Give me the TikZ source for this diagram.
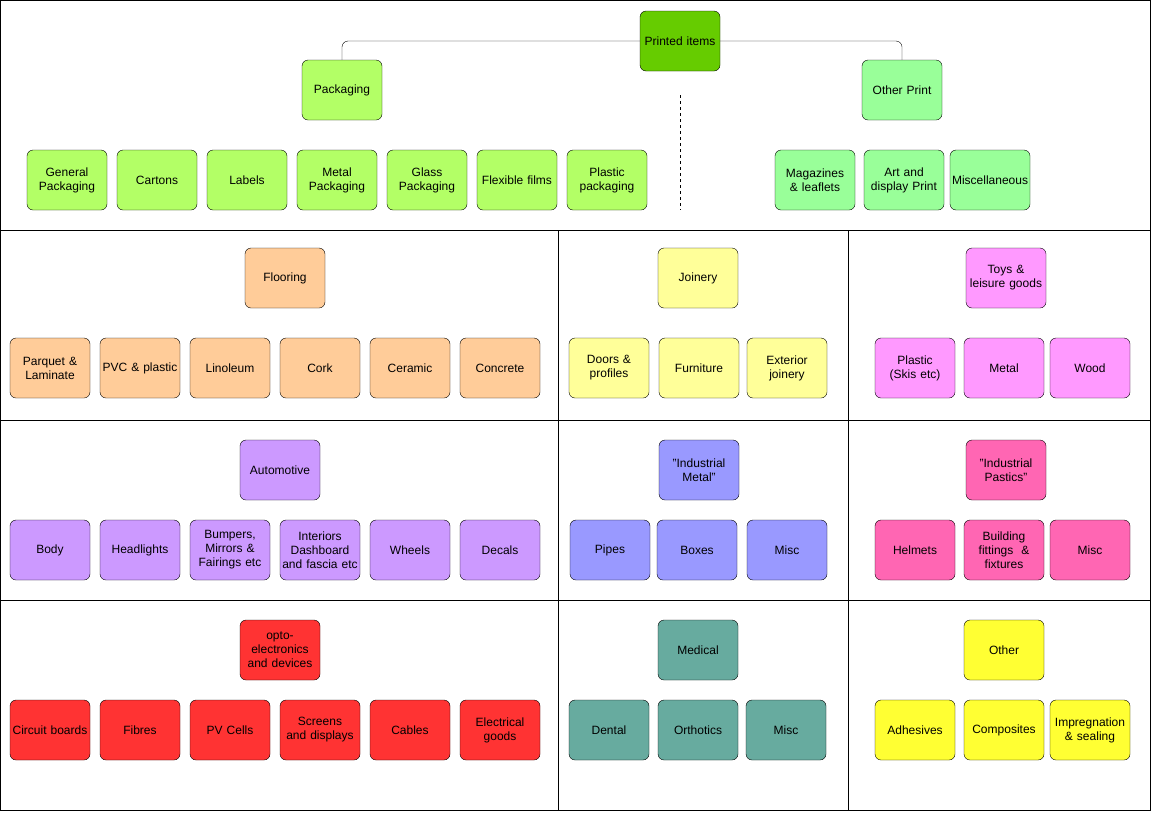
\documentclass[tikz,border=0pt]{standalone}
\usepackage{fontspec}
\setmainfont{Liberation Sans}
\definecolor{cprint}{HTML}{66CC00}
\definecolor{cpack}{HTML}{B3FF66}
\definecolor{cother}{HTML}{99FF99}
\definecolor{cfloor}{HTML}{FFCC99}
\definecolor{cjoin}{HTML}{FFFF99}
\definecolor{ctoys}{HTML}{FF99FF}
\definecolor{cauto}{HTML}{CC99FF}
\definecolor{cmetal}{HTML}{9999FF}
\definecolor{cplast}{HTML}{FF66B3}
\definecolor{copto}{HTML}{FF3333}
\definecolor{cmed}{HTML}{67AB9F}
\definecolor{cmisc}{HTML}{FFFF33}
\tikzset{
  item/.style={draw, rounded corners=6pt, minimum width=80pt, minimum height=60pt,
    text width=76pt, align=center, inner sep=1pt, font=\fontsize{12}{14}\selectfont}
}
\begin{document}
\begin{tikzpicture}[x=1pt,y=-1pt]
	\useasboundingbox (0,0) rectangle (1152,812);

	% frame
	\draw (0.5,0.5) rectangle (1150,810);
	\draw (0.5,230) -- (1150,230);
	\draw (0.5,420) -- (1150,420);
	\draw (0.5,600) -- (1150,600);
	\draw (558,230) -- (558,810);
	\draw (848,230) -- (848,810);
	\draw [dashed] (680,95) -- (680,210);

	% printed items
	\node (print) [item,fill=cprint] at (680,41) {Printed items};
	\node (pack) [item,fill=cpack] at (342,90) {Packaging};
	\node (oprint) [item,fill=cother] at (902,90) {Other Print};
	\draw [rounded corners=6pt] (print.west) -| (pack.north);
	\draw [rounded corners=6pt] (print.east) -| (oprint.north);

	\node (p1) [item,fill=cpack] at (67,180) {General Packaging};
	\node (p2) [item,fill=cpack] at (157,180) {Cartons};
	\node (p3) [item,fill=cpack] at (247,180) {Labels};
	\node (p4) [item,fill=cpack] at (337,180) {Metal Packaging};
	\node (p5) [item,fill=cpack] at (427,180) {Glass Packaging};
	\node (p6) [item,fill=cpack] at (517,180) {Flexible films};
	\node (p7) [item,fill=cpack] at (607,180) {Plastic packaging};
	\node (o1) [item,fill=cother] at (815,180) {Magazines \& leaflets};
	\node (o2) [item,fill=cother] at (904,180) {Art and display Print};
	\node (o3) [item,fill=cother] at (990,180) {Miscellaneous};

	% second band
	\node (floor) [item,fill=cfloor] at (285,278) {Flooring};
	\node (f1) [item,fill=cfloor] at (50,368) {Parquet \& Laminate};
	\node (f2) [item,fill=cfloor] at (140,368) {PVC \& plastic};
	\node (f3) [item,fill=cfloor] at (230,368) {Linoleum};
	\node (f4) [item,fill=cfloor] at (320,368) {Cork};
	\node (f5) [item,fill=cfloor] at (410,368) {Ceramic};
	\node (f6) [item,fill=cfloor] at (500,368) {Concrete};
	\node (join) [item,fill=cjoin] at (698,278) {Joinery};
	\node (j1) [item,fill=cjoin] at (609,368) {Doors \& profiles};
	\node (j2) [item,fill=cjoin] at (699,368) {Furniture};
	\node (j3) [item,fill=cjoin] at (787,368) {Exterior joinery};
	\node (toys) [item,fill=ctoys] at (1006,278) {Toys \& leisure goods};
	\node (t1) [item,fill=ctoys] at (915,368) {Plastic\\(Skis etc)};
	\node (t2) [item,fill=ctoys] at (1004,368) {Metal};
	\node (t3) [item,fill=ctoys] at (1090,368) {Wood};

	% third band
	\node (auto) [item,fill=cauto] at (280,470) {Automotive};
	\node (a1) [item,fill=cauto] at (50,550) {Body};
	\node (a2) [item,fill=cauto] at (140,550) {Headlights};
	\node (a3) [item,fill=cauto] at (230,550) {Bumpers, Mirrors \& Fairings etc};
	\node (a4) [item,fill=cauto] at (320,550) {Interiors Dashboard and fascia etc};
	\node (a5) [item,fill=cauto] at (410,550) {Wheels};
	\node (a6) [item,fill=cauto] at (500,550) {Decals};
	\node (metal) [item,fill=cmetal] at (699,470) {"Industrial Metal"};
	\node (m1) [item,fill=cmetal] at (610,550) {Pipes};
	\node (m2) [item,fill=cmetal] at (697,550) {Boxes};
	\node (m3) [item,fill=cmetal] at (787,550) {Misc};
	\node (plast) [item,fill=cplast] at (1006,470) {"Industrial Pastics"};
	\node (i1) [item,fill=cplast] at (915,550) {Helmets};
	\node (i2) [item,fill=cplast] at (1004,550) {Building fittings~ \& fixtures};
	\node (i3) [item,fill=cplast] at (1090,550) {Misc};

	% fourth band
	\node (opto) [item,fill=copto] at (280,650) {opto-electronics and devices};
	\node (e1) [item,fill=copto] at (50,730) {Circuit boards};
	\node (e2) [item,fill=copto] at (140,730) {Fibres};
	\node (e3) [item,fill=copto] at (230,730) {PV Cells};
	\node (e4) [item,fill=copto] at (320,730) {Screens and displays};
	\node (e5) [item,fill=copto] at (410,730) {Cables};
	\node (e6) [item,fill=copto] at (500,730) {Electrical goods};
	\node (med) [item,fill=cmed] at (698,650) {Medical};
	\node (d1) [item,fill=cmed] at (609,730) {Dental};
	\node (d2) [item,fill=cmed] at (698,730) {Orthotics};
	\node (d3) [item,fill=cmed] at (786,730) {Misc};
	\node (other) [item,fill=cmisc] at (1004,650) {Other};
	\node (x1) [item,fill=cmisc] at (915,730) {Adhesives};
	\node (x2) [item,fill=cmisc] at (1004,730) {Composites};
	\node (x3) [item,fill=cmisc] at (1090,730) {Impregnation \& sealing};
\end{tikzpicture}
\end{document}
